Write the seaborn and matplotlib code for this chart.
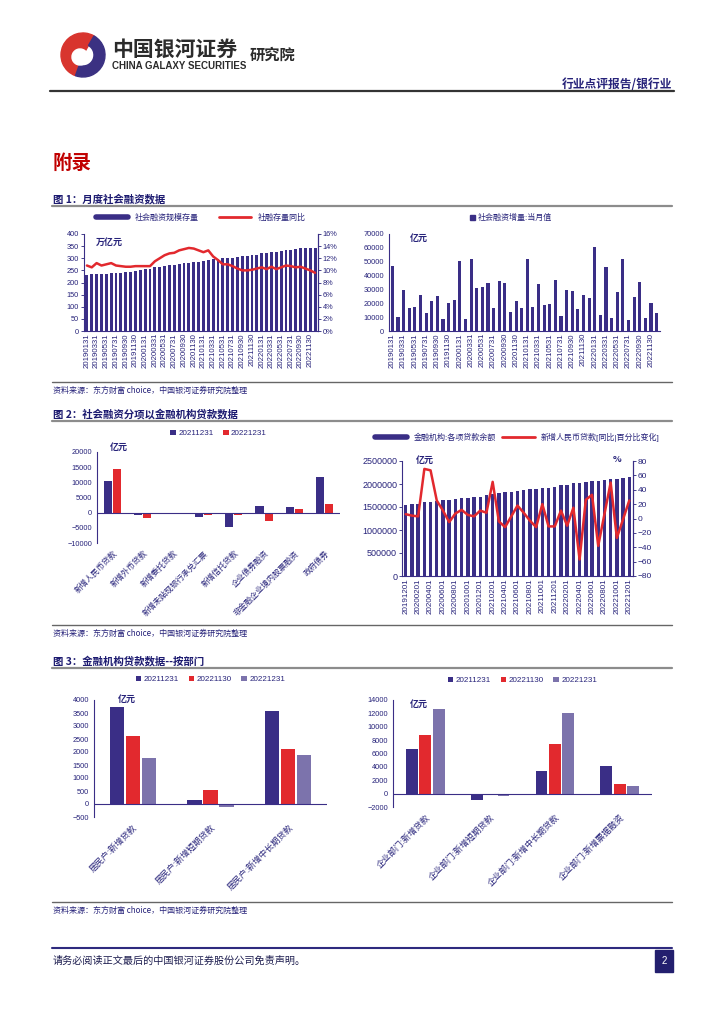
import numpy as np
import pandas as pd
import seaborn as sns
import matplotlib.pyplot as plt
from matplotlib.patches import Rectangle, Wedge, Patch
from matplotlib.lines import Line2D
from matplotlib.ticker import MultipleLocator, FuncFormatter

# ---------------- 数据 ----------------
# 图1 左：社会融资规模存量（万亿元）与同比（%）
months1 = pd.date_range('2019-01-31', periods=48, freq='ME').strftime('%Y%m%d').tolist()
tsf_stock = [232, 233, 235, 236, 237, 239, 240, 241, 243, 244, 246, 251,
             256, 257, 262, 265, 268, 272, 273, 276, 280, 281, 283, 285,
             290, 291, 295, 297, 299, 302, 303, 306, 309, 310, 313, 314,
             320, 321, 325, 326, 329, 334, 335, 338, 341, 341, 343, 344]
tsf_yoy = [10.8, 10.5, 11.2, 10.8, 11.0, 11.2, 10.8, 10.7, 10.6, 10.6, 10.7, 10.7,
           10.7, 10.7, 11.5, 12.0, 12.5, 12.8, 12.9, 13.3, 13.5, 13.7, 13.6, 13.3,
           13.0, 13.3, 12.3, 11.7, 11.0, 11.0, 10.7, 10.3, 10.0, 10.0, 10.1, 10.3,
           10.5, 10.2, 10.6, 10.2, 10.5, 10.8, 10.7, 10.5, 10.6, 10.3, 10.0, 9.6]
# 图1 右：社会融资增量当月值（亿元）
tsf_flow = [46600, 9800, 29600, 16800, 17100, 26300, 12900, 22000, 25200, 8800, 20000, 22100,
            50500, 8600, 51600, 31200, 32000, 34700, 16900, 35800, 34700, 14000, 21300, 16500,
            51900, 17200, 33800, 18600, 19500, 36900, 10800, 29700, 29000, 15900, 25900, 23500,
            60600, 11900, 46500, 9100, 28400, 51700, 7600, 24300, 35300, 9100, 19900, 13100]

# 图2 左：社融分项（亿元）
items = ['新增人民币贷款', '新增外币贷款', '新增委托贷款', '新增未贴现银行承兑汇票',
         '新增信托贷款', '企业债券融资', '非金融企业境内股票融资', '政府债券']
items_2021 = [10350, -700, -350, -1450, -4600, 2100, 1900, 11700]
items_2022 = [14400, -1600, -60, -650, -700, -2700, 1350, 2800]

# 图2 右：金融机构各项贷款余额（亿元）与新增人民币贷款同比（%）
months2 = pd.date_range('2019-12-01', periods=37, freq='MS').strftime('%Y%m%d').tolist()
loan_bal = [1535000, 1564000, 1572000, 1600000, 1617000, 1632000, 1650000, 1660000, 1674000,
            1693000, 1700000, 1714000, 1727000, 1763000, 1777000, 1804000, 1818000, 1833000,
            1855000, 1865000, 1883000, 1900000, 1907000, 1921000, 1933000, 1973000, 1985000,
            2016000, 2022000, 2042000, 2070000, 2075000, 2088000, 2113000, 2119000, 2131000,
            2144000]
loan_yoy = [6, 4, 3, 69, 67, 25, 11, -5, 7, 12, 5, 3, 11, 8, 51, -4, -12, 3, 18, 8, -3, -12,
            20, -11, -11, 11, -10, 15, -57, 26, 33, -38, 6, 50, -27, -1, 25]

# 图3：按部门
hh_items = ['居民户:新增贷款', '居民户:新增短期贷款', '居民户:新增中长期贷款']
hh_vals = {'20211231': [3730, 160, 3570],
           '20221130': [2620, 520, 2100],
           '20221231': [1760, -110, 1870]}
ent_items = ['企业部门:新增贷款', '企业部门:新增短期贷款', '企业部门:新增中长期贷款', '企业部门:新增票据融资']
ent_vals = {'20211231': [6600, -1000, 3400, 4100],
            '20221130': [8800, -200, 7400, 1500],
            '20221231': [12600, -400, 12100, 1100]}

# ---------------- 样式 ----------------
NAVY = '#3A2E86'
RED = '#E2292E'
PURP = '#7C73AC'
TXT = '#27237A'
CJK = ['Noto Sans CJK SC', 'DejaVu Sans']

sns.set_style('white')
plt.rcParams['font.family'] = ['Liberation Sans', 'Noto Sans CJK SC', 'DejaVu Sans']

fig = plt.figure(figsize=(7.24, 10.24), dpi=100)
page = fig.add_axes([0, 0, 1, 1])
page.set_xlim(0, 724)
page.set_ylim(1024, 0)
page.axis('off')


def box(x0, y0, x1, y1):
    return fig.add_axes([x0 / 724, 1 - y1 / 1024, (x1 - x0) / 724, (y1 - y0) / 1024])


def style(ax, fs=5.3):
    ax.tick_params(colors=TXT, labelsize=fs, length=2, width=0.6, pad=1.5)
    for s in ax.spines.values():
        s.set_color(NAVY)
        s.set_linewidth(0.8)
    ax.spines['top'].set_visible(False)
    ax.set_xlabel('')
    ax.set_ylabel('')
    ax.set_facecolor('none')


def unit(x, y, s):
    page.text(x, y, s, fontsize=6.5, fontweight='bold', color=TXT, family=CJK, va='center')


# ---------------- 页眉 ----------------
page.add_patch(Wedge((83, 55), 22, 110, 300, color='#D8352E'))
page.add_patch(Wedge((83, 55), 22, 300, 110, width=11, color='#3B3182'))
page.add_patch(Wedge((80, 57), 8, 0, 360, color='white'))
page.text(112, 49, '中国银河证券', fontsize=15, fontweight='bold', color='#2B2B2B', family=CJK, va='center')
page.text(112, 66, 'CHINA GALAXY SECURITIES', fontsize=7, fontweight='bold', color='#2B2B2B', va='center')
page.text(250, 55, '研究院', fontsize=11, fontweight='bold', color='#2B2B2B', family=CJK, va='center')
page.text(672, 84, '行业点评报告/银行业', fontsize=8.5, fontweight='bold', color=TXT, family=CJK,
          ha='right', va='center')
page.plot([50, 674], [91, 91], color='#333333', lw=1.6)
page.text(53, 163, '附录', fontsize=14, fontweight='bold', color='#C00000', family=CJK, va='center')


def section(y_title, title, y_line, y_src_line, y_src):
    page.text(53, y_title, title, fontsize=7.5, fontweight='bold', color='#1C1A70', family=CJK, va='center')
    page.plot([52, 672], [y_line, y_line], color='#8C8C8C', lw=1.6)
    page.plot([52, 672], [y_src_line, y_src_line], color='#666666', lw=1.0)
    page.text(53, y_src, '资料来源：东方财富 choice，中国银河证券研究院整理', fontsize=5.8,
              style='italic', color=TXT, family=CJK, va='center')


section(199, '图 1：月度社会融资数据', 206, 382, 390)
section(414, '图 2：社会融资分项以金融机构贷款数据', 421, 625, 633)
section(661, '图 3：金融机构贷款数据--按部门', 668, 902, 910)

# 页脚
page.plot([52, 672], [948, 948], color='#2E2A7E', lw=1.5)
page.text(53, 961, '请务必阅读正文最后的中国银河证券股份公司免责声明。', fontsize=7.3, color='#1E1E50',
          family=CJK, va='center')
page.add_patch(Rectangle((655, 950), 18, 22, color='#231F6E'))
page.text(664, 961, '2', fontsize=7, color='white', ha='center', va='center')

# ---------------- 图1 左 ----------------
df1 = pd.DataFrame({'month': months1, 'stock': tsf_stock, 'yoy': np.array(tsf_yoy) / 100,
                    'pos': np.arange(len(months1))})
ax = box(84, 234, 318, 331)
sns.barplot(data=df1, x='month', y='stock', color=NAVY, width=0.6, saturation=1, linewidth=0, ax=ax)
ax2 = ax.twinx()
sns.lineplot(data=df1, x='pos', y='yoy', color=RED, lw=1.8, ax=ax2)
ax.set_xlim(-0.6, len(months1) - 0.4)
ax.set_ylim(0, 400)
ax.yaxis.set_major_locator(MultipleLocator(50))
ax.set_xticks(range(0, len(months1), 2))
ax.set_xticklabels(months1[::2], rotation=90)
style(ax)
ax.tick_params(axis='x', length=0, labelsize=5.6)
ax2.set_ylim(0, 0.16)
ax2.yaxis.set_major_locator(MultipleLocator(0.02))
ax2.yaxis.set_major_formatter(FuncFormatter(lambda v, p: f'{v * 100:.0f}%'))
style(ax2)
ax2.spines['left'].set_visible(False)
ax2.spines['bottom'].set_visible(False)
ax2.legend(handles=[Line2D([], [], color=NAVY, lw=4), Line2D([], [], color=RED, lw=2)],
           labels=['社会融资规模存量', '社融存量同比'], loc='lower center', bbox_to_anchor=(0.5, 1.05),
           ncol=2, frameon=False, fontsize=5.8, handlelength=4, columnspacing=2.5, labelcolor=TXT)
unit(96, 242, '万亿元')

# ---------------- 图1 右 ----------------
df1b = pd.DataFrame({'month': months1, 'flow': tsf_flow})
ax = box(389, 234, 660, 331)
sns.barplot(data=df1b, x='month', y='flow', color=NAVY, width=0.55, saturation=1, linewidth=0, ax=ax)
ax.set_xlim(-0.6, len(months1) - 0.4)
ax.set_ylim(0, 70000)
ax.yaxis.set_major_locator(MultipleLocator(10000))
ax.set_xticks(range(0, len(months1), 2))
ax.set_xticklabels(months1[::2], rotation=90)
style(ax)
ax.spines['right'].set_visible(False)
ax.tick_params(axis='x', length=0, labelsize=5.6)
ax.legend(handles=[Patch(color=NAVY)], labels=['社会融资增量:当月值'], loc='lower center',
          bbox_to_anchor=(0.45, 1.05), frameon=False, fontsize=5.8, handlelength=0.6,
          handleheight=0.6, handletextpad=0.3, labelcolor=TXT)
unit(410, 238, '亿元')


# ---------------- 分组柱状图 ----------------
def grouped(rect, cats, series, colors, ylim, step, width, label_fs, unit_xy):
    rows = []
    for d, vals in series.items():
        for c, v in zip(cats, vals):
            rows.append({'cat': c, 'date': d, 'val': v})
    df = pd.DataFrame(rows)
    ax = box(*rect)
    sns.barplot(data=df, x='cat', y='val', hue='date', palette=colors, width=width, gap=0.12,
                saturation=1, linewidth=0, ax=ax)
    ax.set_ylim(*ylim)
    ax.set_xlim(-0.5, len(cats) - 0.5)
    ax.yaxis.set_major_locator(MultipleLocator(step))
    style(ax)
    ax.spines['right'].set_visible(False)
    ax.spines['bottom'].set_visible(False)
    ax.axhline(0, color=NAVY, lw=0.8)
    ax.set_xticks(range(len(cats)))
    ax.set_xticklabels(cats, rotation=45, ha='right', rotation_mode='anchor', family=CJK,
                       fontsize=label_fs)
    ax.tick_params(axis='x', length=0, pad=4)
    sns.move_legend(ax, 'lower center', bbox_to_anchor=(0.5, 1.08), ncol=len(series), frameon=False,
                    title=None, fontsize=5.8, handlelength=0.7, handleheight=0.7, handletextpad=0.3,
                    columnspacing=1.2, labelcolor=TXT)
    unit(*unit_xy, '亿元')
    return ax


grouped((97, 452, 340, 543), items, {'20211231': items_2021, '20221231': items_2022},
        [NAVY, RED], (-10000, 20000), 5000, 0.6, 5.8, (110, 447))

# ---------------- 图2 右 ----------------
df2 = pd.DataFrame({'month': months2, 'bal': loan_bal, 'yoy': loan_yoy, 'pos': np.arange(len(months2))})
ax = box(402, 461, 633, 576)
sns.barplot(data=df2, x='month', y='bal', color=NAVY, width=0.55, saturation=1, linewidth=0, ax=ax)
ax2 = ax.twinx()
sns.lineplot(data=df2, x='pos', y='yoy', color=RED, lw=1.8, ax=ax2)
ax.set_xlim(-0.6, len(months2) - 0.4)
ax.set_ylim(0, 2500000)
ax.yaxis.set_major_locator(MultipleLocator(500000))
ax.yaxis.set_major_formatter(FuncFormatter(lambda v, p: f'{v:.0f}'))
ax.set_xticks(range(0, len(months2), 2))
ax.set_xticklabels(months2[::2], rotation=90)
style(ax, fs=6.5)
ax.tick_params(axis='x', length=0, labelsize=5.8)
ax2.set_ylim(-80, 80)
ax2.yaxis.set_major_locator(MultipleLocator(20))
style(ax2, fs=6)
ax2.spines['left'].set_visible(False)
ax2.spines['bottom'].set_visible(False)
ax2.legend(handles=[Line2D([], [], color=NAVY, lw=4), Line2D([], [], color=RED, lw=2)],
           labels=['金融机构:各项贷款余额', '新增人民币贷款[同比|百分比变化]'], loc='lower center',
           bbox_to_anchor=(0.5, 1.1), ncol=2, frameon=False, fontsize=5.8, handlelength=4,
           columnspacing=0.8, labelcolor=TXT)
unit(416, 460, '亿元')
unit(613, 460, '%')

# ---------------- 图3 ----------------
grouped((94, 700, 327, 817), hh_items, hh_vals, [NAVY, RED, PURP], (-500, 4000), 500, 0.62, 6.2,
        (118, 699))
grouped((393, 700, 652, 807), ent_items, ent_vals, [NAVY, RED, PURP], (-2000, 14000), 2000, 0.62, 6.2,
        (410, 704))

fig.savefig('out.png', dpi=100, facecolor='white')
